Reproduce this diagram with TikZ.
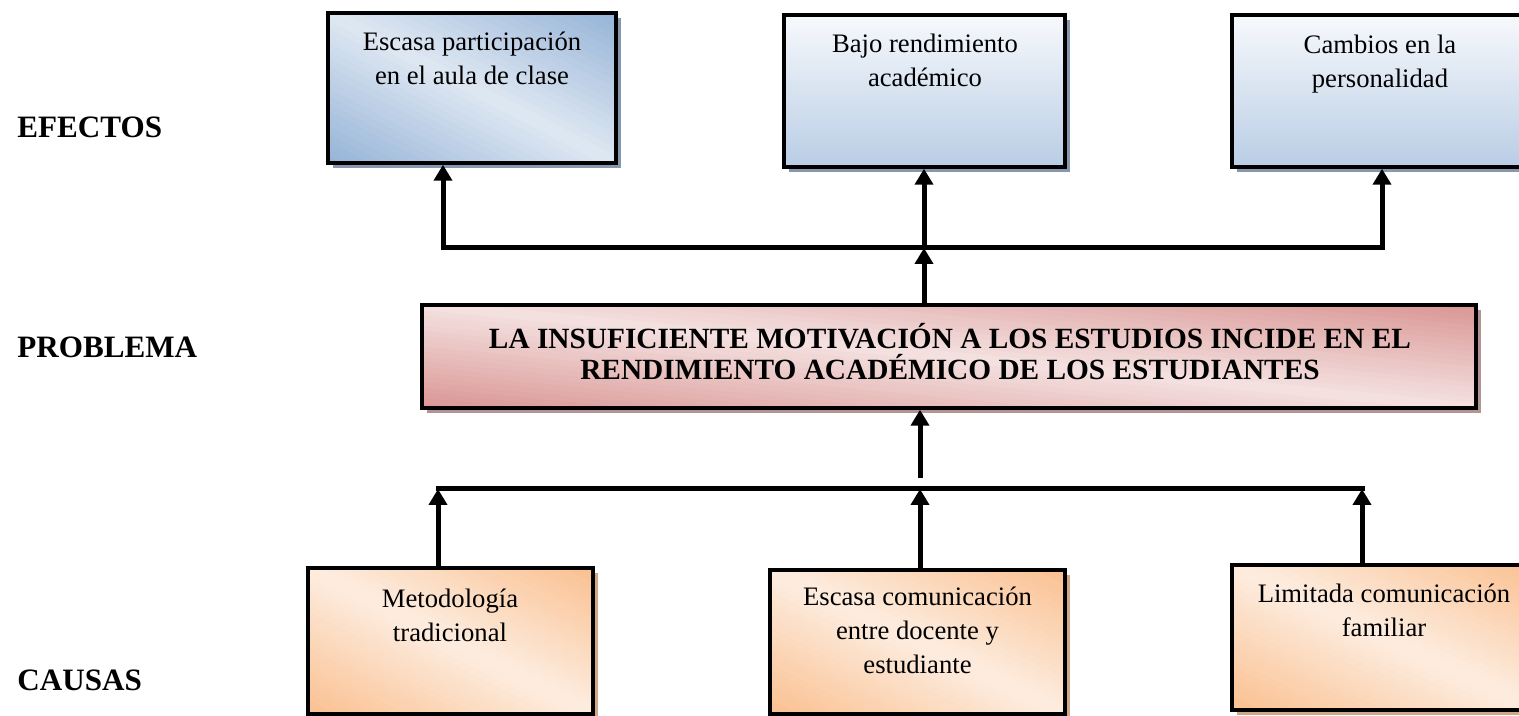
\documentclass[tikz,border=0pt]{standalone}
\usepackage{fontspec}
\setmainfont{Liberation Serif}
\usetikzlibrary{arrows.meta,shadows,calc}
\newdimen\px \px=0.45pt
\definecolor{azulA}{HTML}{F7F9FC}
\definecolor{azulB}{HTML}{B9CDE5}
\definecolor{azulC}{HTML}{95B3D7}
\definecolor{azulD}{HTML}{DFE8F3}
\definecolor{rosaA}{HTML}{D99694}
\definecolor{rosaB}{HTML}{F4E2E1}
\definecolor{naranjaA}{HTML}{FAC090}
\definecolor{naranjaB}{HTML}{FDEDE0}
\definecolor{sombraazul}{HTML}{8797AE}
\definecolor{sombrarosa}{HTML}{B39494}
\definecolor{sombranaranja}{HTML}{CFA88A}

\begin{document}
\begin{tikzpicture}[x=0.45pt,y=0.45pt,yscale=-1,xscale=1,
  caja/.style={draw=black, line width=3.5\px, inner sep=0pt},
  sombra/.style={drop shadow={fill=#1, opacity=1, shadow xshift=5\px, shadow yshift=-5\px}},
  diagonal/.style 2 args={path picture={
    \foreach \k in {0,...,39}{
      \pgfmathsetmacro\ka{\k/20}
      \pgfmathsetmacro\kb{(\k+1.3)/20}
      \pgfmathsetmacro\km{100*abs(\k+0.5-20)/20}
      \fill[#1!\km!#2]
        ($(path picture bounding box.south west)!\ka!(path picture bounding box.south east)$) --
        ($(path picture bounding box.south west)!\kb!(path picture bounding box.south east)$) --
        ($(path picture bounding box.south west)!\kb!(path picture bounding box.north west)$) --
        ($(path picture bounding box.south west)!\ka!(path picture bounding box.north west)$) -- cycle;
    }}},
  efecto/.style={caja, sombra=sombraazul, top color=azulA, bottom color=azulB},
  efectodiag/.style={caja, fill=white, sombra=sombraazul, diagonal={azulC}{azulD}},
  problema/.style={caja, fill=white, sombra=sombrarosa, diagonal={rosaA}{rosaB}},
  causa/.style={caja, fill=white, sombra=sombranaranja, diagonal={naranjaA}{naranjaB}},
  texto/.style={align=center, inner sep=0pt, anchor=north, font=\fontsize{12}{15.3}\selectfont},
  etiqueta/.style={anchor=base west, inner sep=0pt, font=\fontsize{14}{16}\selectfont\bfseries},
  linea/.style={line width=5\px, line cap=rect},
  flecha/.style={line width=5\px, -{Triangle[length=7.2pt,width=8.1pt]}}]
\useasboundingbox (0,0) rectangle (1519,716);
%Shape: Rectangle
\node (e1) [efectodiag, minimum width=288\px, minimum height=150\px] at (472,88) {};
%Shape: Rectangle
\node (e2) [efecto, minimum width=281\px, minimum height=152\px] at (924.5,91) {};
%Shape: Rectangle
\node (e3) [efecto, minimum width=296\px, minimum height=152\px] at (1380,91) {};
%Shape: Rectangle
\node (prob) [problema, minimum width=1054\px, minimum height=103\px] at (949,356.5) {};
%Shape: Rectangle
\node (c1) [causa, minimum width=285\px, minimum height=146\px] at (450.5,641) {};
%Shape: Rectangle
\node (c2) [causa, minimum width=295\px, minimum height=144\px] at (917.5,642) {};
%Shape: Rectangle
\node (c3) [causa, minimum width=304\px, minimum height=145\px] at (1384,637.5) {};

%Straight Lines
\coordinate (ea) at (443,248);
\coordinate (eb) at (924,248);
\coordinate (ec) at (1382,248);
\draw [linea] (ea) -- (ec);
\draw [flecha] (ea) -- (ea |- e1.south);
\draw [flecha] (eb) -- (eb |- e2.south);
\draw [flecha] (ec) -- (ec |- e3.south);
\draw [flecha] (eb |- prob.north) -- (eb);
%Straight Lines
\coordinate (ca) at (438,489);
\coordinate (cb) at (920,489);
\coordinate (cc) at (1362,489);
\coordinate (cp) at (920,478);
\draw [linea] (ca) -- (cc);
\draw [flecha] (ca |- c1.north) -- (ca);
\draw [flecha] (cb |- c2.north) -- (cb);
\draw [flecha] (cc |- c3.north) -- (cc);
\draw [flecha] (cp) -- (cp |- prob.south);

% Text Node
\node (e1t) [texto] at (472,32) {Escasa participación\\en el aula de clase};
% Text Node
\node (e2t) [texto] at (925,34) {Bajo rendimiento\\académico};
% Text Node
\node (e3t) [texto] at (1380,35) {Cambios en la\\personalidad};
% Text Node
\node (probt) [align=center, inner sep=0pt, font=\fontsize{13.2}{14}\selectfont\bfseries] at (950,352) {LA INSUFICIENTE MOTIVACIÓN A LOS ESTUDIOS INCIDE EN EL\\RENDIMIENTO ACADÉMICO DE LOS ESTUDIANTES};
% Text Node
\node (c1t) [texto] at (450,589) {Metodología\\tradicional};
% Text Node
\node (c2t) [texto] at (917.5,587) {Escasa comunicación\\entre docente y\\estudiante};
% Text Node
\node (c3t) [texto] at (1384,584) {Limitada comunicación\\familiar};
% Text Node
\node (efectos) [etiqueta] at (17,138) {EFECTOS};
% Text Node
\node (problema) [etiqueta] at (17,358) {PROBLEMA};
% Text Node
\node (causas) [etiqueta] at (17,690) {CAUSAS};
\end{tikzpicture}
\end{document}
